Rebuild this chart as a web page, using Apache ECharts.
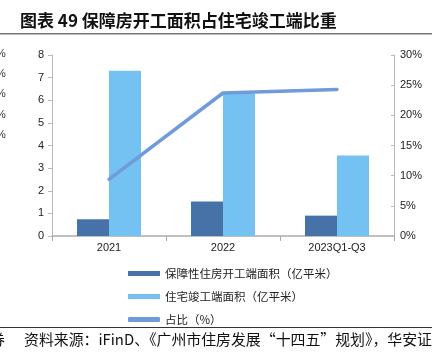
<!DOCTYPE html>
<html><head><meta charset="utf-8">
<script src="https://cdn.jsdelivr.net/npm/echarts@6/dist/echarts.min.js"></script>
<style>html,body{margin:0;padding:0;background:#fff}#c{width:437px;height:360px}</style>
</head><body><div id="c"></div>
<script>
const categories = ['2021', '2022', '2023Q1-Q3'];
const affordableStarts = [0.74, 1.52, 0.9];
const residentialCompletions = [7.3, 6.3, 3.56];
const ratioPct = [9.4, 23.7, 24.3];
const leftTicks = [0, 8, 1];
const rightTicks = [0, 30, 5];
const seriesNames = ['保障性住房开工端面积（亿平米）', '住宅竣工端面积（亿平米）', '占比（%）'];

const chart = echarts.init(document.getElementById('c'));
const font = '"Liberation Sans", Arial, sans-serif';
const cjk = '"Noto Sans CJK SC", sans-serif';
chart.setOption({
  animation: false,
  textStyle: { fontFamily: font },
  title: {
    text: '图表 49 保障房开工面积占住宅竣工端比重',
    left: 20, top: 12, padding: 0,
    textStyle: { fontFamily: cjk, fontSize: 17, fontWeight: 'bold', color: '#111' }
  },
  graphic: [
    { type: 'rect', shape: { x: 0, y: 33, width: 432, height: 1.5 }, style: { fill: '#777' } },
    { type: 'rect', shape: { x: 0, y: 327, width: 432, height: 1 }, style: { fill: '#333' } },
    { type: 'text', left: 24, top: 332, style: { text: '资料来源：iFinD、《广州市住房发展“十四五”规划》，华安证', font: '14.9px "Noto Sans CJK SC"', fill: '#111' } },
    { type: 'text', left: -10, top: 332, style: { text: '券', font: '14.9px "Noto Sans CJK SC"', fill: '#111' } },
    { type: 'text', left: -4, top: 48, style: { text: '%', font: '11px "Liberation Sans"', fill: '#333' } },
    { type: 'text', left: -4, top: 68, style: { text: '%', font: '11px "Liberation Sans"', fill: '#333' } },
    { type: 'text', left: -4, top: 88, style: { text: '%', font: '11px "Liberation Sans"', fill: '#333' } },
    { type: 'text', left: -4, top: 109, style: { text: '%', font: '11px "Liberation Sans"', fill: '#333' } },
    { type: 'text', left: -4, top: 129, style: { text: '%', font: '11px "Liberation Sans"', fill: '#333' } }
  ],
  grid: { left: 52, right: 43, top: 55, bottom: 124 },
  legend: {
    orient: 'vertical', left: 128, top: 265, itemGap: 6, padding: 0,
    itemWidth: 32, itemHeight: 5,
    textStyle: { fontFamily: cjk, fontSize: 11.5, color: '#222', lineHeight: 17 },
    data: [
      { name: seriesNames[0], icon: 'rect' },
      { name: seriesNames[1], icon: 'rect' },
      { name: seriesNames[2], icon: 'roundRect' }
    ]
  },
  xAxis: {
    type: 'category', data: categories,
    axisLine: { lineStyle: { color: '#aaa', width: 1.5 } },
    axisTick: { show: true, alignWithLabel: false, lineStyle: { color: '#aaa' } },
    axisLabel: { color: '#222', fontSize: 11, margin: 6 }
  },
  yAxis: [
    {
      type: 'value', min: leftTicks[0], max: leftTicks[1], interval: leftTicks[2],
      axisLine: { show: true, lineStyle: { color: '#bbb' } },
      axisTick: { show: true, length: 4, lineStyle: { color: '#bbb' } },
      splitLine: { show: false },
      axisLabel: { color: '#222', fontSize: 11, margin: 8 }
    },
    {
      type: 'value', min: rightTicks[0], max: rightTicks[1], interval: rightTicks[2],
      axisLine: { show: true, lineStyle: { color: '#bbb' } },
      axisTick: { show: true, inside: true, length: 3, lineStyle: { color: '#bbb' } },
      splitLine: { show: false },
      axisLabel: { color: '#222', fontSize: 11, margin: 6, formatter: '{value}%' }
    }
  ],
  series: [
    { name: seriesNames[0], type: 'bar', data: affordableStarts, barWidth: 32, barGap: '0%', itemStyle: { color: '#4672A8' } },
    { name: seriesNames[1], type: 'bar', data: residentialCompletions, barWidth: 32, barGap: '0%', itemStyle: { color: '#73C2F2' } },
    { name: seriesNames[2], type: 'line', yAxisIndex: 1, data: ratioPct, symbol: 'none', lineStyle: { color: '#6F9BDB', width: 3.5, cap: 'round' }, itemStyle: { color: '#6F9BDB' }, z: 5 }
  ]
});
</script></body></html>
